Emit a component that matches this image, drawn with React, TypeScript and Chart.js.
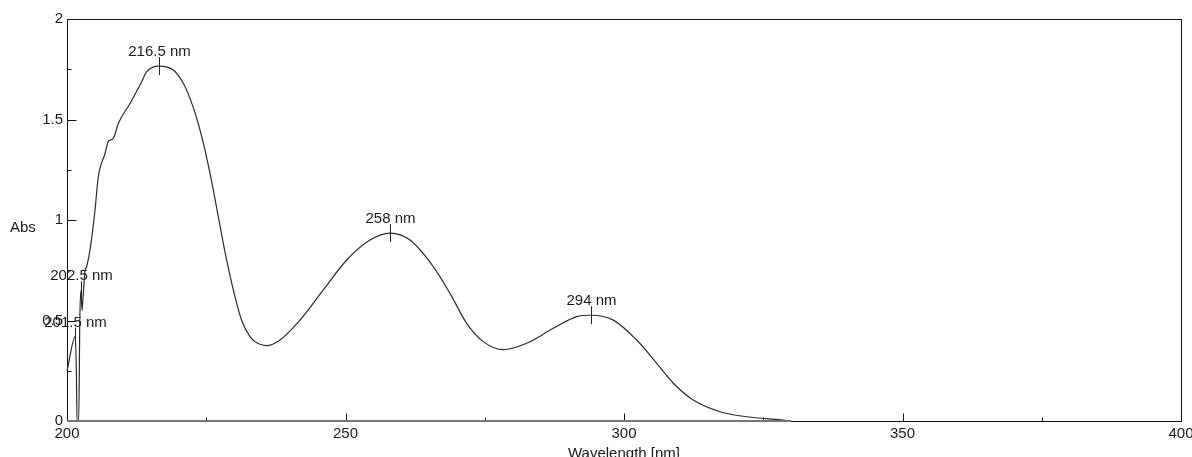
import React, { useEffect, useRef } from "react";
import { Chart, registerables } from "chart.js";

Chart.register(...registerables);

// ---- data ----
const wavelengths = [
  200.0, 201.5, 201.7, 201.8, 202.1, 202.3, 202.5, 202.7, 202.9, 203.2,
  203.54, 204.13, 205.03, 205.62, 206.82, 207.41, 208.31, 209.21, 211.31, 213.41,
  214.31, 216.5, 219.08, 220.88, 222.08, 223.29, 224.78, 226.27, 228.06, 228.67,
  229.86, 231.36, 232.85, 233.75, 234.65, 235.85, 238.24, 241.83,
  246.01, 250.22, 254.4, 258.0, 261.58, 265.76, 268.76, 271.76, 274.74, 278.33,
  282.53, 287.31, 291.51, 294.0, 298.08, 302.28, 305.87, 308.85, 312.44, 317.24,
  322.03, 325.01, 328.55, 330.0,
];
const absorbance = [
  0.25, 0.42, 0.22, 0.0, 0.0, 0.5, 0.65, 0.55, 0.62, 0.74,
  0.77, 0.85, 1.05, 1.215, 1.33, 1.39, 1.406, 1.48, 1.58, 1.688,
  1.738, 1.766, 1.746, 1.68, 1.605, 1.506, 1.348, 1.149, 0.884, 0.8,
  0.652, 0.5, 0.42, 0.395, 0.382, 0.375, 0.403, 0.502,
  0.652, 0.801, 0.9, 0.935, 0.9, 0.768, 0.635, 0.486, 0.395, 0.355,
  0.387, 0.461, 0.519, 0.526, 0.502, 0.403, 0.287, 0.188, 0.104, 0.046,
  0.021, 0.013, 0.005, 0.0,
];
const baselineNm = [200, 330];
const baselineAbs = [0, 0];

const peakNm = [201.5, 202.5, 216.5, 258, 294];
const peakLabels = ["201.5 nm", "202.5 nm", "216.5 nm", "258 nm", "294 nm"];

const xMin = 200;
const xMax = 400;
const xStep = 50;
const yMin = 0;
const yMax = 2;
const yStep = 0.5;
const xMajorTicks = [250, 300, 350];
const xMinorTicks = [225, 275, 325, 375];
const yMajorTicks = [0.5, 1, 1.5];
const yMinorTicks = [0.25, 0.75, 1.25, 1.75];

const xTitle = "Wavelength [nm]";
const yTitle = "Abs";

const FONT = "'Liberation Sans', Arial, sans-serif";
const TEXT = "#1a1a1a";

const decorPlugin = {
  id: "decor",
  beforeDatasetsDraw(chart: any) {
    const { ctx, chartArea: a, scales } = chart;
    const x = scales.x;
    const y = scales.y;
    ctx.save();
    // frame
    ctx.strokeStyle = "#111";
    ctx.lineWidth = 1;
    ctx.strokeRect(Math.round(a.left) + 0.5, Math.round(a.top) + 0.5, Math.round(a.right - a.left), Math.round(a.bottom - a.top));
    // inward ticks
    ctx.beginPath();
    const bottom = Math.round(a.bottom) + 0.5;
    const left = Math.round(a.left) + 0.5;
    xMajorTicks.forEach((v) => {
      const px = Math.round(x.getPixelForValue(v)) + 0.5;
      ctx.moveTo(px, bottom);
      ctx.lineTo(px, bottom - 8);
    });
    xMinorTicks.forEach((v) => {
      const px = Math.round(x.getPixelForValue(v)) + 0.5;
      ctx.moveTo(px, bottom);
      ctx.lineTo(px, bottom - 4);
    });
    yMajorTicks.forEach((v) => {
      const py = Math.round(y.getPixelForValue(v)) + 0.5;
      ctx.moveTo(left, py);
      ctx.lineTo(left + 9, py);
    });
    yMinorTicks.forEach((v) => {
      const py = Math.round(y.getPixelForValue(v)) + 0.5;
      ctx.moveTo(left, py);
      ctx.lineTo(left + 4, py);
    });
    ctx.stroke();
    ctx.restore();
  },
  afterDraw(chart: any) {
    const { ctx, chartArea: a, scales } = chart;
    const x = scales.x;
    const y = scales.y;
    ctx.save();
    ctx.fillStyle = TEXT;
    ctx.strokeStyle = "#222";
    ctx.lineWidth = 1;
    ctx.font = `15px ${FONT}`;
    // peak markers and labels
    peakNm.forEach((nm, i) => {
      const idx = wavelengths.indexOf(nm);
      const val = absorbance[idx];
      const px = Math.round(x.getPixelForValue(nm)) + 0.5;
      const py = y.getPixelForValue(val);
      ctx.beginPath();
      ctx.moveTo(px, py - 9);
      ctx.lineTo(px, py + 9);
      ctx.stroke();
      ctx.textAlign = "center";
      ctx.textBaseline = "alphabetic";
      ctx.fillText(peakLabels[i], px, py - 10);
    });
    // axis titles
    ctx.textAlign = "left";
    ctx.textBaseline = "middle";
    ctx.fillText(yTitle, 10, (a.top + a.bottom) / 2 + 8);
    ctx.textAlign = "center";
    ctx.fillText(xTitle, (a.left + a.right) / 2, a.bottom + 33);
    ctx.restore();
  },
};

export default function App() {
  const ref = useRef<HTMLCanvasElement | null>(null);
  useEffect(() => {
    if (!ref.current) return;
    const spectrum = wavelengths.map((w, i) => ({ x: w, y: absorbance[i] }));
    const baseline = baselineNm.map((w, i) => ({ x: w, y: baselineAbs[i] }));
    const chart = new Chart(ref.current, {
      type: "line",
      data: {
        datasets: [
          {
            label: "baseline",
            data: baseline,
            borderColor: "#777",
            borderWidth: 2,
            pointRadius: 0,
            clip: false,
          },
          {
            label: "Abs",
            data: spectrum,
            borderColor: "#2a2a2a",
            borderWidth: 1.2,
            pointRadius: 0,
            cubicInterpolationMode: "monotone",
            clip: false,
          },
        ],
      },
      options: {
        responsive: false,
        animation: false,
        events: [],
        layout: { padding: { top: 19, right: 11, left: 0, bottom: 0 } },
        plugins: {
          legend: { display: false },
          tooltip: { enabled: false },
          title: { display: false },
        },
        scales: {
          x: {
            type: "linear",
            min: xMin,
            max: xMax,
            grid: { display: false, drawTicks: false },
            border: { display: false },
            ticks: {
              stepSize: xStep,
              autoSkip: false,
              maxRotation: 0,
              padding: 4,
              color: TEXT,
              font: { size: 15, family: FONT },
            },
            afterFit: (s: any) => {
              s.height = 36;
              s.paddingLeft = 0;
              s.paddingRight = 0;
            },
          },
          y: {
            type: "linear",
            min: yMin,
            max: yMax,
            grid: { display: false, drawTicks: false },
            border: { display: false },
            ticks: {
              stepSize: yStep,
              padding: 4,
              color: TEXT,
              font: { size: 15, family: FONT },
              callback: (v: any) => String(Number(v)),
            },
            afterFit: (s: any) => {
              s.width = 67;
              s.paddingTop = 0;
              s.paddingBottom = 0;
            },
          },
        },
      },
      plugins: [decorPlugin],
    });
    return () => chart.destroy();
  }, []);
  return (
    <div style={{ position: "absolute", left: 0, top: 0, width: 1192, height: 457, background: "#fff" }}>
      <canvas ref={ref} width={1192} height={457} style={{ display: "block" }} />
    </div>
  );
}
